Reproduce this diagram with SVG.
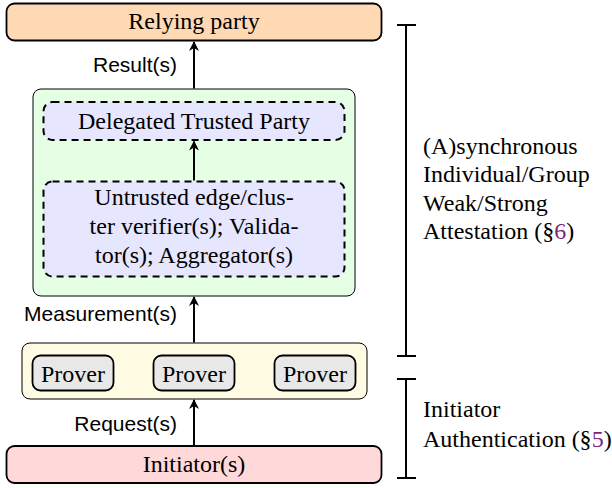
<svg xmlns="http://www.w3.org/2000/svg" width="612" height="488" viewBox="0 0 612 488">
<style>
.serif{font-family:"Liberation Serif","DejaVu Serif",serif;font-size:24px;fill:#000}
.sans{font-family:"Liberation Sans","DejaVu Sans",sans-serif;font-size:21px;fill:#000}
.c{text-anchor:middle}
.e{text-anchor:end}
.solid{stroke:#000;stroke-width:1.8}
.thin{stroke:#000;stroke-width:1}
.dash{stroke:#000;stroke-width:2;stroke-dasharray:7 5}
.conn{stroke:#000;stroke-width:2;fill:none}
.link{fill:#80207F}
</style>
<defs>
<marker id="ah" viewBox="0 0 10 10" refX="9" refY="5" markerWidth="5" markerHeight="5.5" orient="auto" markerUnits="strokeWidth">
<path d="M0,0 L10,5 L0,10 L3,5 Z" fill="#000"/>
</marker>
</defs>

<g id="relying-party">
<rect x="6.5" y="3.5" width="375" height="37" rx="8" fill="#FFD9B3" class="solid"/>
<text x="194" y="28.5" class="serif c">Relying party</text>
</g>

<g id="verifier-group">
<rect x="33" y="89" width="322" height="207" rx="8" fill="#E5FFE5" class="thin"/>
</g>

<g id="delegated-trusted-party">
<rect x="43.5" y="102" width="301" height="38" rx="9" fill="#E6E6FF" class="dash"/>
<text x="194" y="129" class="serif c">Delegated Trusted Party</text>
</g>

<g id="untrusted-verifiers">
<rect x="43.5" y="181.5" width="301" height="95" rx="9" fill="#E6E6FF" class="dash"/>
<text x="194" y="205" class="serif c">Untrusted edge/clus-</text>
<text x="194" y="234" class="serif c">ter verifier(s); Valida-</text>
<text x="194" y="263" class="serif c">tor(s); Aggregator(s)</text>
</g>

<g id="provers">
<rect x="22" y="343" width="345" height="56" rx="8" fill="#FFFCE3" class="thin"/>
</g>
<g id="prover-1">
<rect x="32.5" y="355.5" width="81" height="35" rx="8" fill="#E8E8E8" class="solid"/>
<text x="73" y="381.5" class="serif c">Prover</text>
</g>
<g id="prover-2">
<rect x="153.5" y="355.5" width="81" height="35" rx="8" fill="#E8E8E8" class="solid"/>
<text x="194" y="381.5" class="serif c">Prover</text>
</g>
<g id="prover-3">
<rect x="274.5" y="355.5" width="81" height="35" rx="8" fill="#E8E8E8" class="solid"/>
<text x="315" y="381.5" class="serif c">Prover</text>
</g>

<g id="initiator">
<rect x="6.5" y="446" width="375" height="37" rx="8" fill="#FFD9D9" class="solid"/>
<text x="194" y="471.5" class="serif c">Initiator(s)</text>
</g>

<g id="connectors">
<line x1="194" y1="88.5" x2="194" y2="42" class="conn" marker-end="url(#ah)"/>
<line x1="194" y1="180.5" x2="194" y2="141.5" class="conn" marker-end="url(#ah)"/>
<line x1="194" y1="342.5" x2="194" y2="297" class="conn" marker-end="url(#ah)"/>
<line x1="194" y1="445.5" x2="194" y2="400" class="conn" marker-end="url(#ah)"/>
</g>

<g id="edge-labels">
<text x="177" y="72" class="sans e">Result(s)</text>
<text x="177" y="321" class="sans e">Measurement(s)</text>
<text x="177" y="431" class="sans e">Request(s)</text>
</g>

<g id="bracket-attestation">
<path d="M406,25 V356 M397,25 H416 M397,356 H416" class="conn"/>
<text x="423" y="153.5" class="serif">(A)synchronous</text>
<text x="423" y="182" class="serif">Individual/Group</text>
<text x="423" y="210.5" class="serif">Weak/Strong</text>
<text x="423" y="239" class="serif">Attestation (§<tspan class="link">6</tspan>)</text>
</g>

<g id="bracket-initiator">
<path d="M406,379 V478 M397,379 H416 M397,478 H416" class="conn"/>
<text x="423" y="417" class="serif">Initiator</text>
<text x="423" y="446.5" class="serif">Authentication (§<tspan class="link">5</tspan>)</text>
</g>
</svg>
